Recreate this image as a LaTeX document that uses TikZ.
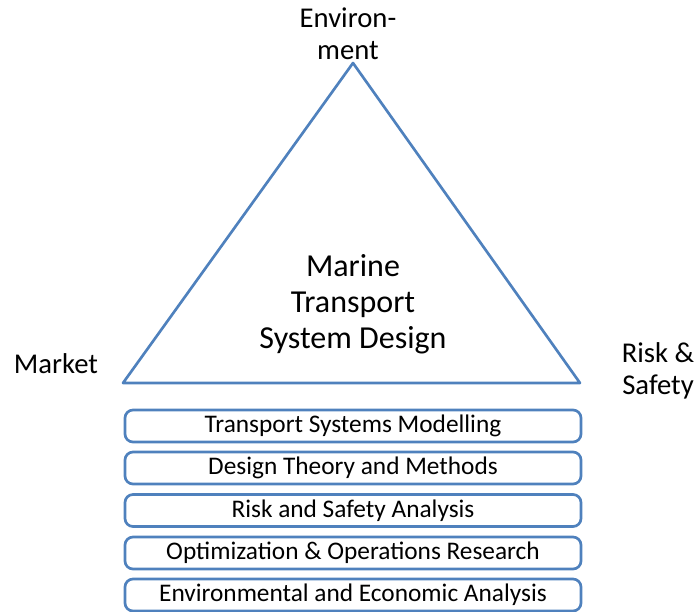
\documentclass[tikz,border=0pt]{standalone}
\usepackage{fontspec}
\setmainfont{Carlito}
\definecolor{officeblue}{RGB}{79,129,189}

\tikzset{every picture/.style={line width=0.75pt}}
\tikzset{layerbox/.style={draw=officeblue,line width=2pt,rounded corners=6pt,minimum width=342pt,minimum height=24pt,inner sep=0.75pt,font=\fontsize{19}{22}\selectfont}}
\tikzset{cornerlabel/.style={inner sep=0.75pt,align=center,font=\fontsize{21.5}{24}\selectfont}}

\begin{document}
\begin{tikzpicture}[x=0.75pt,y=0.75pt,yscale=-1,xscale=1]
\useasboundingbox (0,0) rectangle (700,611);

%Triangle
\draw [draw=officeblue,line width=2pt,line join=round]  (353,63) -- (580,383) -- (123,383) -- cycle ;

% Layer boxes
\node [layerbox] (tsm) at (353,426) {Transport Systems Modelling};
\node [layerbox] (dtm) at (353,468) {Design Theory and Methods};
\node [layerbox] (rsa) at (353,510.5) {Risk and Safety Analysis};
\node [layerbox] (oor) at (353,553) {Optimization \& Operations Research};
\node [layerbox] (eea) at (353,595) {Environmental and Economic Analysis};

% Text Node
\node [cornerlabel] (env) at (348,34) {Environ-\\ment};
% Text Node
\node [cornerlabel] (mkt) at (56,364) {Market};
% Text Node
\node [cornerlabel] (risk) at (658,371) {Risk \&\\Safety};
% Text Node
\node [cornerlabel,font=\fontsize{24}{27}\selectfont] (mtsd) at (353,304) {Marine\\Transport\\System Design};

\end{tikzpicture}
\end{document}
